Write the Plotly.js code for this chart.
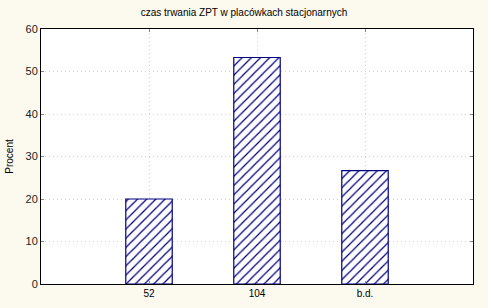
<!DOCTYPE html>
<html><head><meta charset="utf-8">
<script src="https://cdn.plot.ly/plotly-3.0.1.min.js"></script>
<style>html,body{margin:0;padding:0;background:#FCF9EE;}</style>
</head><body>
<div id="chart" style="width:488px;height:308px;"></div>
<script>
const categories = ["52", "104", "b.d."];
const values = [20.0, 53.3, 26.7];
const yTicks = [0, 10, 20, 30, 40, 50, 60];

const trace = {
  type: "bar",
  x: categories,
  y: values,
  width: 0.43,
  marker: {
    color: "#ffffff",
    line: {color: "#000080", width: 1.2},
    pattern: {shape: "/", fgcolor: "#000080", bgcolor: "#ffffff", size: 6.5, solidity: 0.2}
  },
  hoverinfo: "skip"
};

const layout = {
  width: 488, height: 308,
  paper_bgcolor: "#FCF9EE",
  plot_bgcolor: "#ffffff",
  margin: {l: 41, r: 15, t: 29, b: 24, pad: 0},
  showlegend: false,
  title: {text: "czas trwania ZPT w placówkach stacjonarnych", font: {family: "Arial, Liberation Sans, sans-serif", size: 10, color: "#000"}, x: 0.5, xanchor: "center", y: 0.958, yanchor: "middle"},
  xaxis: {
    type: "category",
    range: [-1, 3],
    showline: true, linecolor: "#000", linewidth: 1, mirror: "allticks",
    ticks: "inside", ticklen: 3, tickcolor: "#888",
    showgrid: true, gridcolor: "#d4d4d4", griddash: "1px,3px", gridwidth: 1,
    tickfont: {family: "Arial, Liberation Sans, sans-serif", size: 10, color: "#000"},
    fixedrange: true
  },
  yaxis: {
    range: [0, 60],
    tickvals: yTicks,
    ticktext: yTicks.map(String),
    showline: true, linecolor: "#000", linewidth: 1, mirror: "allticks",
    ticks: "inside", ticklen: 3, tickcolor: "#888",
    showgrid: true, gridcolor: "#d4d4d4", griddash: "1px,3px", gridwidth: 1,
    zeroline: false,
    tickfont: {family: "Arial, Liberation Sans, sans-serif", size: 11, color: "#222"},
    title: {text: "Procent", font: {family: "Arial, Liberation Sans, sans-serif", size: 10, color: "#000"}, standoff: 10},
    fixedrange: true
  }
};

Plotly.newPlot("chart", [trace], layout, {staticPlot: true, displayModeBar: false});
</script>
</body></html>
